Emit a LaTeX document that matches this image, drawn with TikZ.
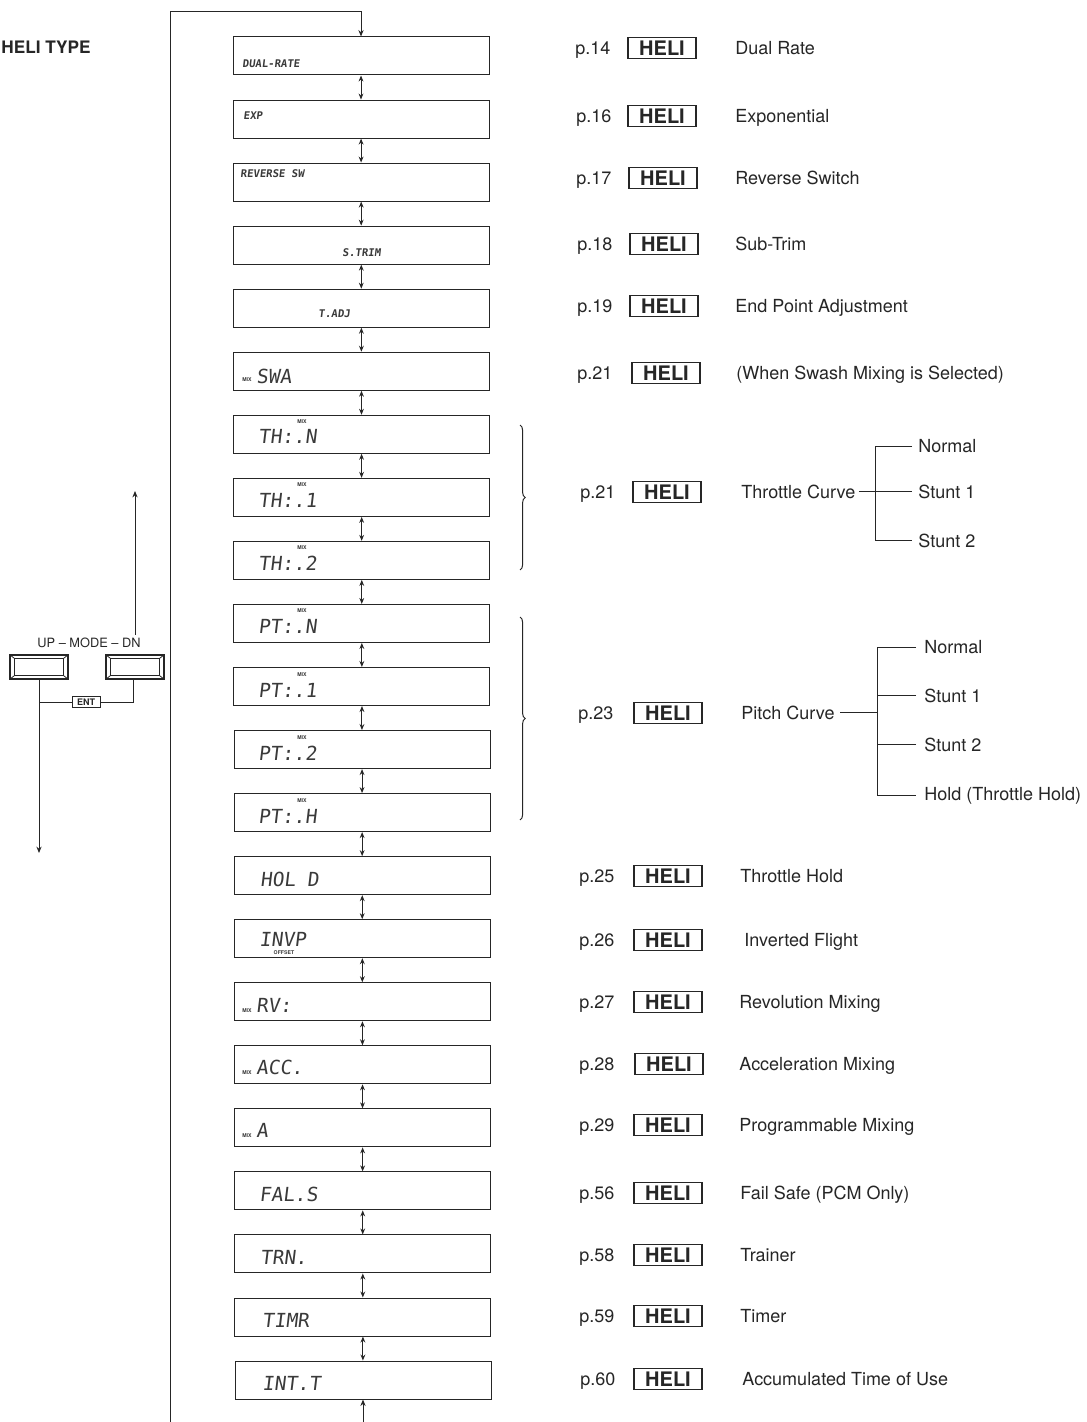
\documentclass[tikz,border=0pt]{standalone}
\usepackage{fontspec}
\setmainfont{TeX Gyre Heros}
\newfontfamily\lcdfont[FakeSlant=0.12]{DejaVu Sans Mono}
\usetikzlibrary{arrows.meta,calc,decorations.pathreplacing}
\definecolor{ink}{HTML}{262626}
\definecolor{lcdink}{HTML}{3A3A3A}
\tikzset{
  ln/.style={draw=ink, line width=0.5pt},
  arr/.style={ln, -{Stealth[length=3.2pt,width=2.6pt]}},
  dbl/.style={ln, {Stealth[length=3pt,width=2.4pt]}-{Stealth[length=3pt,width=2.4pt]}},
  lcdbox/.style={draw=ink, line width=0.5pt, minimum width=128pt, minimum height=19pt, inner sep=0},
  lcdsmall/.style={anchor=base west, inner sep=0, text=lcdink, font=\lcdfont\bfseries\fontsize{5.3}{6}\selectfont},
  lcdbig/.style={anchor=base west, inner sep=0, text=lcdink, font=\lcdfont\fontsize{9.7}{10}\selectfont},
  tmark/.style={inner sep=0, text=lcdink, font=\bfseries\fontsize{2.6}{3}\selectfont},
  pg/.style={anchor=base west, inner sep=0, text=ink, font=\fontsize{9}{10}\selectfont},
  desc/.style={anchor=base west, inner sep=0, text=ink, font=\fontsize{9}{10}\selectfont},
  helibox/.style={draw=ink, line width=0.65pt, minimum width=34pt, minimum height=10.5pt, inner sep=0, text=ink, font=\bfseries\fontsize{10}{10}\selectfont},
  btn/.style={draw=ink, line width=0.6pt, minimum width=29pt, minimum height=12pt, inner sep=0},
  brc/.style={ln, decorate, decoration={brace, amplitude=2.6pt}}
}
\newcommand\helirow[7]{%
  \node[pg] (p#1) at (#3,{#2+6.5}) {#4};
  \node[helibox] (h#1) at (#5,#2) {HELI};
  \node[desc] (d#1) at (#6,{#2+6.5}) {#7};
}
\begin{document}
\begin{tikzpicture}[x=0.5pt,y=-0.5pt]
\useasboundingbox[fill=white] (0,0) rectangle (1086,1422);

% title
\node[anchor=base west, inner sep=0, text=ink, font=\bfseries\fontsize{8.6}{10}\selectfont] (title) at (1,54) {HELI TYPE};

% LCD boxes
\foreach \i in {1,...,22}{
  \node[lcdbox] (b\i) at ({361+2*(\i-1)/21},{56+63.05*(\i-1)}) {};
}
\foreach \i in {1,...,21}{
  \pgfmathtruncatemacro{\j}{\i+1}
  \draw[dbl] (b\i.south) -- (b\i.south |- b\j.north);
}

% loop connectors
\coordinate (loopB) at (170,1422);
\coordinate (loopT) at (170,12);
\draw[arr] (loopB) -- (loopT) -- (b1.north |- loopT) -- (b1.north);
\coordinate (botIn) at (363,1422);
\draw[arr] (botIn) -- (botIn |- b22.south);

% LCD contents
\node[lcdsmall] (t1) at (242,68) {DUAL-RATE};
\node[lcdsmall] (t2) at (243,120) {EXP};
\node[lcdsmall] (t3) at (240,178) {REVERSE SW};
\node[lcdsmall] (t4) at (342,257) {S.TRIM};
\node[lcdsmall] (t5) at (318,318) {T.ADJ};

\node[tmark, anchor=base west] (m6) at (242,382) {MIX};
\node[lcdbig] (t6) at (256,384) {SWA};

\node[lcdbig] (t7) at (258,444) {TH:.N};
\node[tmark] (m7) at (302,422) {MIX};
\node[lcdbig] (t8) at (258,507) {TH:.1};
\node[tmark] (m8) at (302,485) {MIX};
\node[lcdbig] (t9) at (258,570) {TH:.2};
\node[tmark] (m9) at (302,548) {MIX};

\node[lcdbig] (t10) at (258,633) {PT:.N};
\node[tmark] (m10) at (302,611) {MIX};
\node[lcdbig] (t11) at (258,697) {PT:.1};
\node[tmark] (m11) at (302,675) {MIX};
\node[lcdbig] (t12) at (258,760) {PT:.2};
\node[tmark] (m12) at (302,738) {MIX};
\node[lcdbig] (t13) at (258,823) {PT:.H};
\node[tmark] (m13) at (302,801) {MIX};

\node[lcdbig] (t14) at (260,886) {HOL D};
\node[lcdbig] (t15) at (259,946) {INVP};
\node[tmark] (m15) at (284,953) {OFFSET};
\node[tmark, anchor=base west] (m16) at (242,1012) {MIX};
\node[lcdbig] (t16) at (256,1012) {RV:};
\node[tmark, anchor=base west] (m17) at (242,1074) {MIX};
\node[lcdbig] (t17) at (256,1074) {ACC.};
\node[tmark, anchor=base west] (m18) at (242,1137) {MIX};
\node[lcdbig] (t18) at (256,1137) {A};
\node[lcdbig] (t19) at (259,1201) {FAL.S};
\node[lcdbig] (t20) at (260,1264) {TRN.};
\node[lcdbig] (t21) at (262,1327) {TIMR};
\node[lcdbig] (t22) at (262,1390) {INT.T};

% braces
\coordinate (tbT) at (520,425);
\coordinate (tbB) at (520,570);
\draw[brc] (tbT) -- (tbB);
\coordinate (pbT) at (520,617);
\coordinate (pbB) at (520,820);
\draw[brc] (pbT) -- (pbB);

% HELI rows
\helirow{1}{48}{575}{p.14}{662}{735}{Dual Rate}
\helirow{2}{116}{576}{p.16}{662}{735}{Exponential}
\helirow{3}{178}{576}{p.17}{663}{735}{Reverse Switch}
\helirow{4}{244}{577}{p.18}{664}{735}{Sub-Trim}
\helirow{5}{306}{577}{p.19}{664}{735}{End Point Adjustment}
\helirow{6}{373}{577}{p.21}{666}{736}{(When Swash Mixing is Selected)}
\helirow{7}{492}{580}{p.21}{667}{741}{Throttle Curve}
\helirow{8}{713}{578}{p.23}{668}{741}{Pitch Curve}
\helirow{9}{876}{579}{p.25}{668}{740}{Throttle Hold}
\helirow{10}{940}{579}{p.26}{668}{744}{Inverted Flight}
\helirow{11}{1002}{579}{p.27}{668}{739}{Revolution Mixing}
\helirow{12}{1064}{579}{p.28}{669}{739}{Acceleration Mixing}
\helirow{13}{1125}{579}{p.29}{668}{739}{Programmable Mixing}
\helirow{14}{1193}{579}{p.56}{668}{740}{Fail Safe (PCM Only)}
\helirow{15}{1255}{579}{p.58}{668}{740}{Trainer}
\helirow{16}{1316}{579}{p.59}{668}{740}{Timer}
\helirow{17}{1379}{580}{p.60}{668}{742}{Accumulated Time of Use}

% throttle tree
\node[desc] (tn) at (918,452.5) {Normal};
\node[desc] (ts1) at (918,498.5) {Stunt 1};
\node[desc] (ts2) at (918,547.5) {Stunt 2};
\coordinate (tj) at (875,492);
\draw[ln] ($(d7.east)+(3,0)$) -- ($(ts1.west)+(-6,0)$);
\draw[ln] ($(tn.west)+(-6,0)$) -- (tj |- tn.west) -- (tj |- ts2.west) -- ($(ts2.west)+(-6,0)$);

% pitch tree
\node[desc] (pn) at (924,653.5) {Normal};
\node[desc] (ps1) at (924,702.5) {Stunt 1};
\node[desc] (ps2) at (924,751.5) {Stunt 2};
\node[desc] (ph) at (924,800.5) {Hold (Throttle Hold)};
\coordinate (pj) at (877,718);
\draw[ln] ($(d8.east)+(5,0)$) -- (pj |- d8.east);
\draw[ln] ($(pn.west)+(-8,0)$) -- (pj |- pn.west) -- (pj |- ph.west) -- ($(ph.west)+(-8,0)$);
\draw[ln] ($(ps1.west)+(-8,0)$) -- (pj |- ps1.west);
\draw[ln] ($(ps2.west)+(-8,0)$) -- (pj |- ps2.west);

% buttons
\node[btn] (bu) at (39,667) {};
\node[btn] (bd) at (135,667) {};
\foreach \b in {bu,bd}{
  \draw[ln, line width=0.4pt] ([shift={(5,4)}]\b.north west) rectangle ([shift={(-5,-4)}]\b.south east);
  \draw[ln, line width=0.4pt] (\b.north west) -- ++(5,4);
  \draw[ln, line width=0.4pt] (\b.north east) -- ++(-5,4);
  \draw[ln, line width=0.4pt] (\b.south west) -- ++(5,-4);
  \draw[ln, line width=0.4pt] (\b.south east) -- ++(-5,-4);
}
\node[inner sep=0, text=ink, font=\fontsize{6.4}{7}\selectfont] (mode) at (89,643) {UP -- MODE -- DN};
\node[draw=ink, line width=0.5pt, inner sep=0, minimum width=14pt, minimum height=5.5pt, text=ink, font=\bfseries\fontsize{4.5}{5}\selectfont] (ent) at (86,702) {ENT};
\coordinate (upEnd) at (135,491);
\coordinate (downEnd) at (40,853);
\draw[ln] (bu.south) -- (bu.south |- ent.west) -- (ent.west);
\draw[ln] (ent.east) -- ([xshift=-1pt]bd.south |- ent.east) -- ([xshift=-1pt]bd.south);
\draw[arr] ([yshift=1.5pt]mode.north -| bd.north) -- (upEnd);
\draw[arr] (bu.south |- ent.west) -- (bu.south |- downEnd);
\end{tikzpicture}
\end{document}
